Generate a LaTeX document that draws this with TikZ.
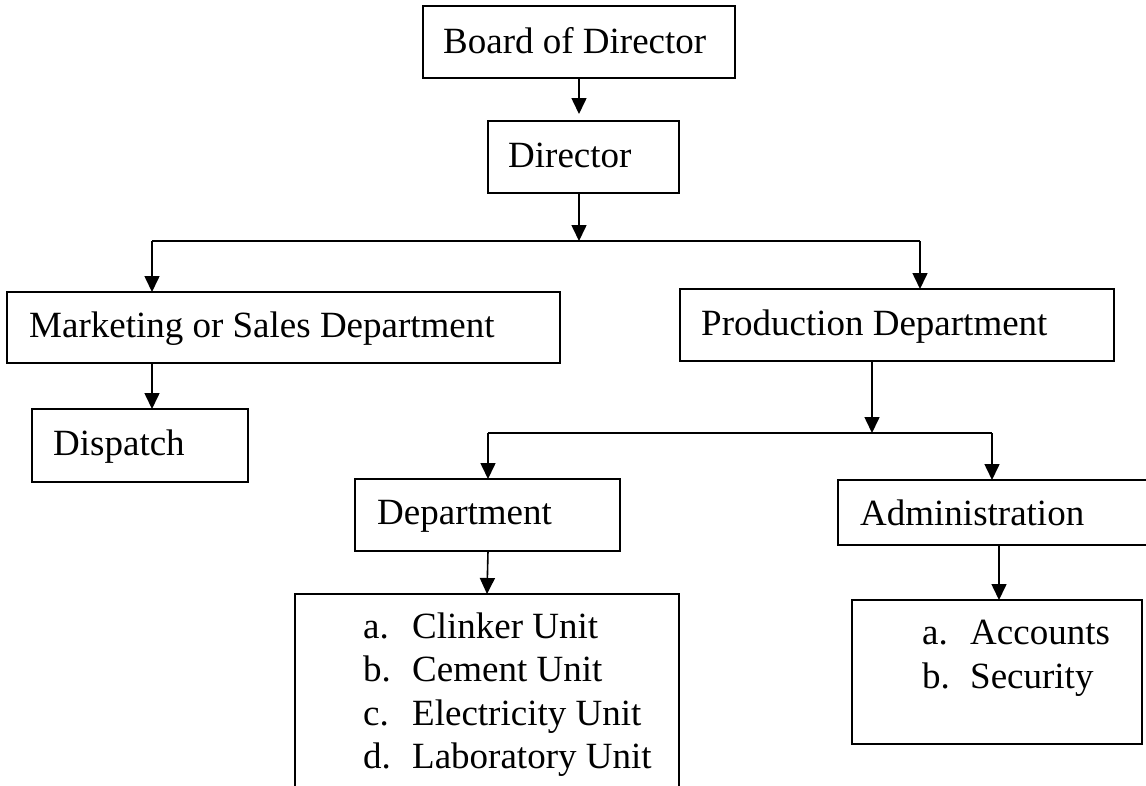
\documentclass[tikz,border=0pt]{standalone}
\usepackage{fontspec}
\setmainfont{Liberation Serif}
\usetikzlibrary{arrows.meta}
\begin{document}
\begin{tikzpicture}[x=1pt,y=-1pt,
  box/.style={draw, line width=1.6pt, inner sep=0pt, outer sep=0pt, anchor=north west},
  lbl/.style={anchor=base west, inner sep=0pt, font=\fontsize{37}{44}\selectfont},
  arr/.style={line width=1.6pt, -{Triangle[length=16pt,width=15pt]}},
  wire/.style={line width=1.6pt}]
\useasboundingbox (0,0) rectangle (1146,785);
\clip (0,0) rectangle (1146,785);

% boxes
\node[box, minimum width=312pt, minimum height=72pt] (board) at (423,6) {};
\node[box, minimum width=191pt, minimum height=72pt] (director) at (488,121) {};
\node[box, minimum width=553pt, minimum height=71pt] (marketing) at (7,292) {};
\node[box, minimum width=216pt, minimum height=73pt] (dispatch) at (32,409) {};
\node[box, minimum width=434pt, minimum height=72pt] (production) at (680,289) {};
\node[box, minimum width=265pt, minimum height=72pt] (department) at (355,479) {};
\node[box, minimum width=384pt, minimum height=220pt] (units) at (295,594) {};
\node[box, minimum width=312pt, minimum height=65pt] (admin) at (838,480) {};
\node[box, minimum width=290pt, minimum height=144pt] (accounts) at (852,600) {};

% labels
\node[lbl] (tboard) at (443,53) {Board of Director};
\node[lbl] (tdirector) at (508,167) {Director};
\node[lbl] (tmarketing) at (29,337) {Marketing or Sales Department};
\node[lbl] (tdispatch) at (53,455) {Dispatch};
\node[lbl] (tproduction) at (701,335) {Production Department};
\node[lbl] (tdepartment) at (377,524) {Department};
\node[lbl] (tadmin) at (860,525) {Administration};

\node[lbl] (ua) at (363,638) {a.};
\node[lbl] (ub) at (363,681) {b.};
\node[lbl] (uc) at (363,725) {c.};
\node[lbl] (ud) at (363,768) {d.};
\node[lbl] (uat) at (412,638) {Clinker Unit};
\node[lbl] (ubt) at (412,681) {Cement Unit};
\node[lbl] (uct) at (412,725) {Electricity Unit};
\node[lbl] (udt) at (412,768) {Laboratory Unit};

\node[lbl] (aa) at (922,644) {a.};
\node[lbl] (ab) at (922,688) {b.};
\node[lbl] (aat) at (970,644) {Accounts};
\node[lbl] (abt) at (970,688) {Security};

% junction points
\coordinate (bus1) at (579,241);
\coordinate (j1l) at (152,241);
\coordinate (j1r) at (920,241);
\coordinate (bus2) at (872,433);
\coordinate (j2l) at (488,433);
\coordinate (j2r) at (992,433);
\coordinate (ax) at (999,0);

% connectors
\draw[arr, shorten >=7pt] (bus1 |- board.south) -- (bus1 |- director.north);
\draw[arr] (bus1 |- director.south) -- (bus1);
\draw[wire] (j1l) -- (j1r);
\draw[arr] (j1l) -- (j1l |- marketing.north);
\draw[arr] (j1r) -- (j1r |- production.north);
\draw[arr] (j1l |- marketing.south) -- (j1l |- dispatch.north);

\draw[arr] (bus2 |- production.south) -- (bus2);
\draw[wire] (j2l) -- (j2r);
\draw[arr] (j2l) -- (j2l |- department.north);
\draw[arr] (j2r) -- (j2r |- admin.north);
\draw[arr] (j2l |- department.south) -- (units.north);
\draw[arr] (ax |- admin.south) -- (ax |- accounts.north);
\end{tikzpicture}
\end{document}
